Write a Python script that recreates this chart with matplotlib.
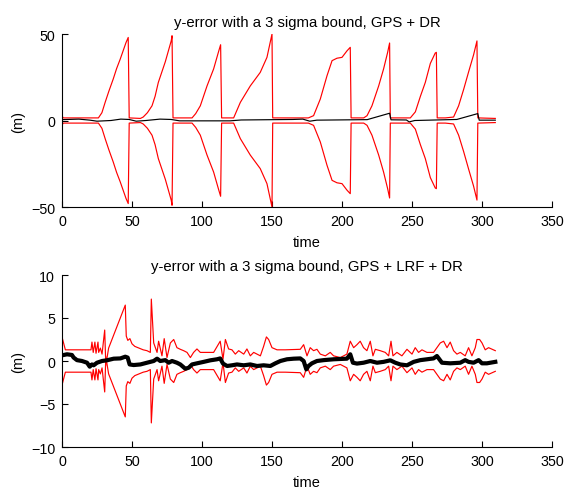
import matplotlib
matplotlib.use("Agg")
import matplotlib.pyplot as plt
import numpy as np

plt.rcParams['font.family'] = ['Liberation Sans', 'DejaVu Sans']

# ---------------- Top panel: GPS + DR ----------------
# 3-sigma bound (plotted as +/-) : knot times and values
top_bound_t = [0, 1, 26, 28.5, 30.9, 33.5, 36.6, 39, 41.6, 45.7, 47.3, 48,
               56, 58, 61, 64.3, 66.5, 68.8, 73.8, 78, 78.6, 79.3,
               92.9, 95.5, 98.8, 103.6, 108.3, 111.9, 113.3, 114,
               122.6, 127.4, 134.5, 141.6, 146.4, 150, 150.5,
               165, 176, 179.7, 184.5, 189.3, 192.9, 196.4, 200, 203.6, 205.9, 206.5,
               215.5, 217.9, 221.4, 226.2, 229.7, 232.6, 234, 234.5,
               245, 248.8, 252.4, 256, 259.5, 263.1, 266.6, 267.4, 268,
               273.8, 279.7, 283.3, 286.9, 290.4, 294, 296.4, 297, 309.5]
top_bound_v = [2.5, 1.5, 1.5, 4.5, 10.7, 17, 24, 30, 35.5, 45, 48, 1.5,
               1.2, 2.0, 4.5, 8.5, 14, 22, 34, 46, 49, 1.5,
               1.5, 4, 8.5, 20, 29.8, 40, 43.8, 1.5,
               1.5, 10.5, 20, 27.8, 36.5, 50, 1.5,
               1.5, 1.5, 2.8, 12.4, 25.9, 34.6, 36, 36.5, 40.3, 42.3, 1.5,
               1.5, 2.8, 8.5, 20, 29.8, 39.4, 44.8, 1.5,
               1.5, 1.5, 5, 14, 22, 33, 39, 39.4, 1.5,
               1.5, 2.0, 8.5, 18, 28, 38, 46, 1.5, 1.2]

top_err_t = [0, 12, 20, 25, 35, 42, 48, 53, 60, 70, 78, 84, 120, 128, 165, 172,
             177, 182, 218, 234, 235, 246, 248, 252, 282, 297, 298, 309.5]
top_err_v = [0.5, 0.8, 0.2, -0.4, 0, 0.8, 0.6, -0.4, 0, 0.8, 0.6, -0.2, -0.2, 0.3, 0.6, 0.8,
             -0.4, 0.2, 0.5, 4.2, 0.4, 0.3, -0.8, 0, 0.6, 4.0, 0.2, 0.2]

# ---------------- Bottom panel: GPS + LRF + DR ----------------
bot_bound_t = [0, 2.4, 20.7, 21.4, 22.3, 23.5, 24.3, 25.7, 26.2, 27.4, 28.6, 30.5, 31.3,
               33.3, 45.2, 45.9, 47, 48.5, 50, 52, 55, 58, 60.7, 63.1, 63.8,
               65.5, 67.9, 69, 71.4, 73, 75, 77.4, 79.8, 82.1, 84.5, 86.9, 89.3,
               91.7, 94, 96.4, 98.8, 103.6, 108.3, 113, 115, 116.7, 119, 121.4, 123.8,
               126.2, 129.8, 132.1, 134.5, 136.9, 141.7, 144, 146, 147.6, 150, 153.6,
               159.5, 170.2, 172.6, 175, 177.3, 179.7, 182.1, 184.5, 188.1, 191.6, 194,
               198.8, 203.5, 205.9, 208.3, 210.7, 213, 215.4, 217.8, 220.2, 222.1, 223.8,
               227.3, 230.9, 233.3, 235, 236.4, 239.2, 242.8, 246.4, 250, 252.3, 254.7,
               257.1, 260.7, 265.4, 270.2, 272.6, 275, 277.3, 279.7, 282.1, 284.5, 288,
               290.4, 292.8, 295.2, 296.4, 298.3, 300, 302.3, 304.7, 309.5]
bot_bound_v = [2.8, 1.3, 1.3, 2.2, 1.0, 2.2, 0.9, 2.2, 1.0, 1.5, 0.8, 3.6, -0.5,
               1.5, 6.5, 2.9, 2.4, 2.6, 2.0, 1.7, 1.5, 1.3, 1.2, 1.0, 7.2,
               2.1, 1.0, 2.3, 0.6, 2.6, 0.4, 2.1, 2.5, 1.55, 1.36, 1.2, 1.0,
               0.4, 1.0, 1.4, 1.0, 1.0, 1.0, 2.3, 0.2, 2.5, 1.4, 1.3, 0.8,
               1.2, 0.8, 1.4, 0.6, 1.0, 0.6, 1.7, 2.8, 2.5, 1.55, 1.3,
               1.3, 1.36, 1.9, 0.6, 1.55, 1.2, 1.36, 0.8, 0.6, 1.0, 0.6,
               0.4, 0.8, 2.3, 1.55, 1.9, 2.3, 1.55, 1.2, 2.3, 0.6, 1.36,
               1.2, 1.0, 0.6, 2.3, 0.6, 1.0, 0.6, 1.36, 0.8, 1.55, 1.0,
               1.3, 1.0, 1.0, 2.1, 2.3, 1.55, 2.2, 1.2, 0.8, 1.0, 0.6,
               1.55, 0.6, 1.55, 2.5, 2.5, 2.1, 1.3, 1.55, 1.2]

bot_err_t = [0, 3.6, 7.1, 8.3, 10.7, 14.3, 17.9, 19.8, 21.4, 22.6, 25, 28.6, 32.1, 36.9,
             41.7, 45.2, 46.9, 48.3, 51.2, 56, 60.7, 65.5, 67.9, 70.2, 73.8, 76.2, 78.6,
             82.1, 84.5, 88.1, 90.5, 92.9, 96.4, 101.2, 106, 110.7, 113, 115, 117.9,
             121.4, 125, 129.8, 134.5, 139.3, 144, 148.8, 152.4, 156, 160.7, 165.5,
             170.2, 172.6, 174.5, 176.1, 178.5, 182.1, 186.9, 194, 203.5, 205.9, 207.8,
             210.7, 215.4, 220.2, 225, 229.7, 234.5, 238.1, 241.6, 246.4, 251.2, 255.9,
             260.7, 265.4, 267.8, 271.4, 277.3, 284.5, 288, 290.4, 294, 297.6, 300,
             303.5, 309.5]
bot_err_v = [0.66, 0.78, 0.7, 0.4, 0.1, 0.0, -0.2, -0.66, -0.4, -0.5, -0.2, 0.0, 0.08, 0.27,
             0.3, 0.5, 0.4, -0.4, -0.47, -0.4, -0.2, 0.0, 0.27, 0.0, 0.1, -0.2, 0.0,
             -0.2, -0.4, -0.9, -0.78, -0.4, -0.27, -0.1, 0.08, 0.2, 0.3, -0.3, -0.58,
             -0.5, -0.4, -0.5, -0.4, -0.58, -0.5, -0.58, -0.27, 0.0, 0.2, 0.27,
             0.3, 0.0, -0.97, -0.58, -0.27, 0.0, 0.1, 0.2, 0.27, 0.78, -0.2,
             -0.3, -0.2, 0.0, -0.2, -0.1, 0.08, -0.2, -0.4, -0.5, -0.1, 0.1,
             0.2, 0.3, 0.58, -0.2, -0.27, -0.2, 0.1, -0.1, -0.2, 0.1, -0.27,
             -0.27, -0.1]

titles = ["y-error with a 3 sigma bound, GPS + DR",
          "y-error with a 3 sigma bound, GPS + LRF + DR"]
x_ticks = [0, 50, 100, 150, 200, 250, 300, 350]
top_yticks = [-50, 0, 50]
bot_yticks = [-10, -5, 0, 5, 10]

fig = plt.figure(figsize=(5.76, 4.89), dpi=100)
ax1 = fig.add_axes([62/576, 1-208/489, 490/576, 173/489])
ax2 = fig.add_axes([62/576, 1-448/489, 490/576, 172/489])

tb_t = np.array(top_bound_t); tb_v = np.array(top_bound_v)
ax1.plot(tb_t, tb_v, color='red', lw=0.85)
ax1.plot(tb_t, -tb_v, color='red', lw=0.85)
ax1.plot(top_err_t, top_err_v, color='black', lw=0.85)

bb_t = np.array(bot_bound_t); bb_v = np.array(bot_bound_v)
ax2.plot(bb_t, bb_v, color='red', lw=0.85)
ax2.plot(bb_t, -bb_v, color='red', lw=0.85)
ax2.plot(bot_err_t, bot_err_v, color='black', lw=3)

for ax, title, yt, ylim, tpad in [(ax1, titles[0], top_yticks, (-50, 50), 6),
                                  (ax2, titles[1], bot_yticks, (-10, 10), 3.5)]:
    ax.set_xlim(0, 350)
    ax.set_ylim(*ylim)
    ax.set_xticks(x_ticks)
    ax.set_yticks(yt)
    ax.set_title(title, fontsize=10.7, pad=tpad)
    ax.set_xlabel("time", fontsize=10.5, labelpad=5)
    ax.set_ylabel("(m)", fontsize=10.5, labelpad=4)
    ax.spines['top'].set_visible(False)
    ax.spines['right'].set_visible(False)
    ax.tick_params(direction='in', length=4, width=0.8, labelsize=10.3, pad=5)

fig.savefig("out.png", dpi=100)
